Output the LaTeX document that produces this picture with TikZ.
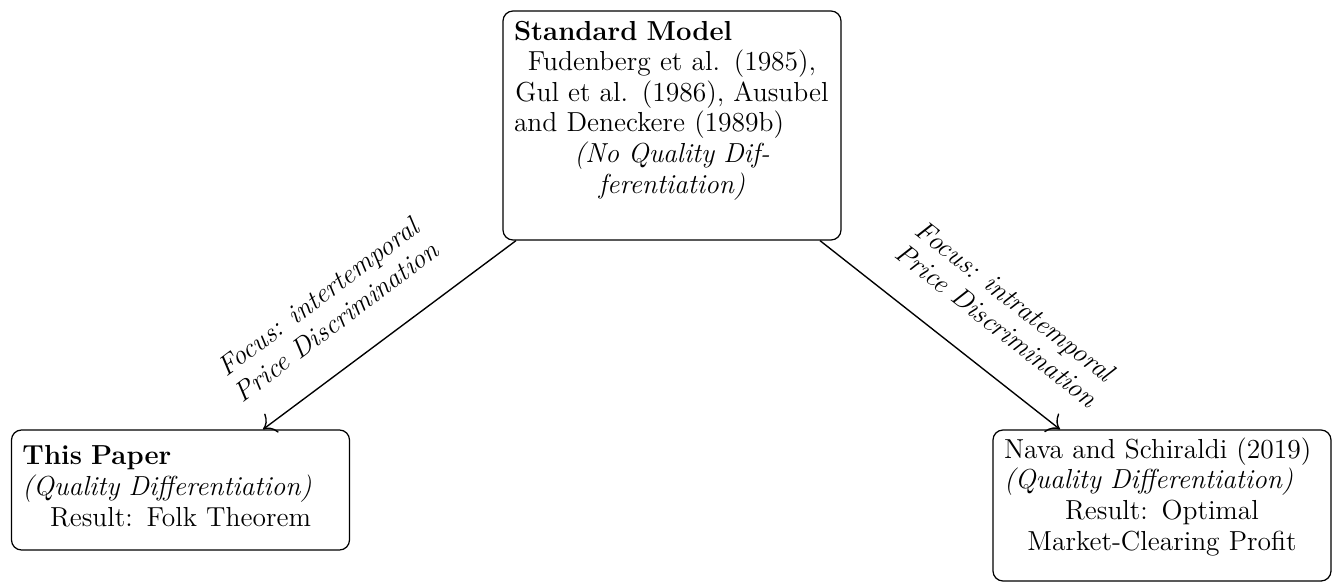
\documentclass[tikz,border=0pt]{standalone}
\usepackage{fontspec}
\usetikzlibrary{calc,arrows.meta}
\tikzset{
  box/.style={draw=black, line width=0.5pt, rounded corners=4pt,
    text width=126.4pt, inner xsep=4.4pt, inner ysep=2pt, align=center,
    font=\fontsize{11}{12.25}\selectfont},
  lbl/.style={align=center, inner sep=0pt,
    font=\fontsize{11}{12.25}\selectfont\itshape},
  conn/.style={-{To[scale=1.6]}, line width=0.55pt}
}
\newcommand{\lft}{\hfill\null}
\begin{document}
\begin{tikzpicture}[x=0.4pt, y=-0.4pt]
\useasboundingbox (0,0) rectangle (1335,582);
\node[box, minimum height=91.6pt, text depth=76pt] (top) at (672,125.5) {%
\textbf{Standard Model}\lft\\
Fudenberg et al. (1985),\\
Gul et al. (1986), Ausubel\\
and Deneckere (1989b)\lft\\
\textit{(No Quality Dif-}\\
\textit{ferentiation)}};
\node[box, minimum height=48pt, text depth=27.7pt] (left) at (180.5,490) {%
\textbf{This Paper}\lft\\
\textit{(Quality Differentiation)}\lft\\
Result: Folk Theorem};
\node[box, minimum height=60.4pt, text depth=46.1pt] (right) at (1162,505.5) {%
Nava and Schiraldi (2019)\lft\\
\textit{(Quality Differentiation)}\lft\\
Result: Optimal\\
Market-Clearing Profit};
\draw[conn] ([xshift=-62.4pt]top.south) -- ([xshift=33pt]left.north);
\draw[conn] ([xshift=59.2pt]top.south) -- ([xshift=-40.8pt]right.north);
\node[lbl, rotate=36.9] (lbl1) at (327,309) {Focus: intertemporal\\Price Discrimination};
\node[lbl, rotate=-38] (lbl2) at (1006,313) {Focus: intratemporal\\Price Discrimination};
\end{tikzpicture}
\end{document}
